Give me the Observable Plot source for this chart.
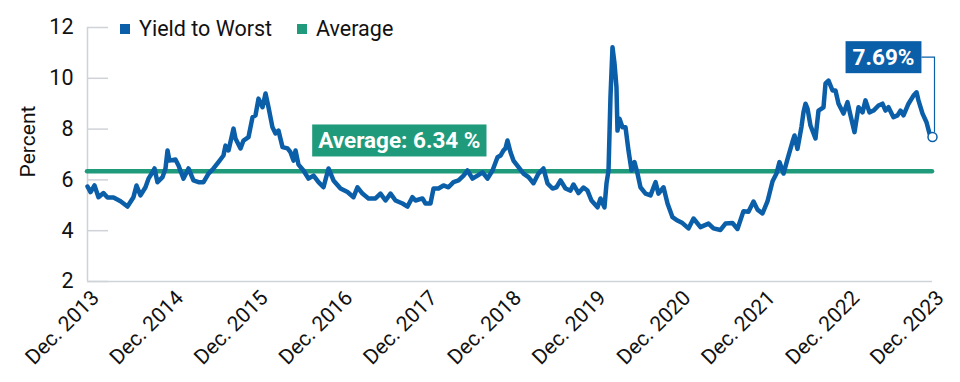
<!DOCTYPE html>
<html><head><meta charset="utf-8">
<script src="https://cdn.jsdelivr.net/npm/d3@7"></script>
<script src="https://cdn.jsdelivr.net/npm/@observablehq/plot@0.6"></script>
<style>
body{margin:0;background:#fff;font-family:Roboto,sans-serif}
#wrap{position:relative;width:960px;height:382px}
#legend{position:absolute;left:120px;top:17px;display:flex;gap:25px;font-size:21.5px;color:#111;line-height:24px}
#legend span.item{display:flex;align-items:center}
#legend span.sw{display:inline-block;width:10px;height:10px;margin-right:9px}
</style></head><body>
<div id="wrap"><div id="legend"></div></div>
<script>
// ---- data ----
const seriesNames = ["Yield to Worst", "Average"];
const seriesColors = ["#0b5ea8", "#1f9a7a"];
// decimal years (2014.0 = end of Dec. 2013)
const dates = [2014.000,2014.036,2014.083,2014.130,2014.189,2014.237,2014.308,2014.391,2014.473,2014.544,2014.580,2014.627,2014.686,2014.722,2014.769,2014.793,2014.828,2014.888,2014.923,2014.947,2014.970,
2015.041,2015.077,2015.136,2015.195,2015.254,2015.314,2015.373,2015.432,2015.491,2015.550,2015.609,2015.633,2015.669,2015.728,2015.751,2015.811,2015.846,2015.905,2015.953,2015.988,
2016.024,2016.071,2016.107,2016.142,2016.189,2016.225,2016.260,2016.308,2016.367,2016.402,2016.438,2016.462,2016.497,2016.556,2016.615,2016.675,2016.734,2016.793,2016.852,2016.911,2016.994,
2017.077,2017.148,2017.195,2017.254,2017.325,2017.408,2017.467,2017.527,2017.586,2017.645,2017.728,2017.787,2017.846,2017.882,2017.964,
2018.000,2018.059,2018.095,2018.154,2018.213,2018.272,2018.331,2018.391,2018.450,2018.497,2018.556,2018.615,2018.675,2018.734,2018.793,2018.852,2018.888,2018.923,2018.947,2018.970,
2019.006,2019.041,2019.101,2019.160,2019.219,2019.278,2019.337,2019.396,2019.444,2019.503,2019.550,2019.598,2019.657,2019.716,2019.751,2019.811,2019.870,2019.917,2019.964,
2020.036,2020.071,2020.118,2020.142,2020.166,2020.189,2020.213,2020.237,2020.260,2020.272,2020.296,2020.331,2020.367,2020.402,2020.438,2020.473,2020.509,2020.544,2020.604,2020.663,2020.722,2020.757,2020.817,2020.864,2020.923,2020.982,
2021.041,2021.112,2021.172,2021.254,2021.349,2021.408,2021.491,2021.550,2021.633,2021.692,2021.763,2021.822,2021.882,2021.929,2021.988,
2022.047,2022.107,2022.154,2022.189,2022.237,2022.284,2022.343,2022.367,2022.402,2022.450,2022.473,2022.497,2022.521,2022.556,2022.615,2022.651,2022.710,2022.734,2022.769,2022.817,2022.852,2022.888,2022.947,2022.994,
2023.030,2023.077,2023.124,2023.172,2023.207,2023.254,2023.302,2023.361,2023.408,2023.444,2023.479,2023.538,2023.586,2023.621,2023.657,2023.716,2023.775,2023.811,2023.834,2023.882,2023.929,2023.964,2024.000];
const yieldToWorst = [5.74,5.52,5.78,5.32,5.48,5.31,5.31,5.16,4.95,5.32,5.78,5.39,5.71,6.05,6.30,6.45,5.91,6.11,6.45,7.16,6.76,
6.80,6.57,6.05,6.45,5.98,5.91,5.91,6.25,6.45,6.70,6.96,7.35,7.16,8.02,7.63,7.24,7.55,7.68,8.47,8.54,
9.20,8.86,9.40,8.86,8.07,7.83,7.94,7.29,7.24,7.09,6.76,7.16,6.60,6.37,6.05,6.17,5.91,5.71,6.45,5.98,5.66,
5.52,5.32,5.71,5.46,5.27,5.27,5.46,5.19,5.46,5.19,5.07,4.95,5.32,5.19,5.27,
5.07,5.07,5.66,5.66,5.78,5.71,5.91,5.98,6.17,6.37,6.05,6.17,6.30,6.05,6.37,6.89,6.96,7.16,7.24,7.55,
7.09,6.76,6.50,6.25,6.11,5.87,6.25,6.45,5.86,5.66,5.71,5.98,5.66,5.58,5.82,5.48,5.70,5.58,5.19,
4.92,5.27,4.92,5.86,6.37,9.26,11.22,10.58,9.65,7.94,8.41,8.07,8.07,7.16,6.37,6.70,6.25,5.71,5.46,5.39,5.91,5.46,5.71,5.07,4.53,4.40,
4.30,4.09,4.48,4.14,4.28,4.09,4.03,4.28,4.30,4.07,4.77,4.75,5.15,4.83,4.68,
5.15,5.95,6.25,6.70,6.25,6.82,7.50,7.75,7.22,8.10,8.66,9.00,8.81,8.14,7.63,8.73,8.86,9.80,9.91,9.52,9.52,9.00,8.61,9.06,
8.54,7.88,8.86,8.66,9.13,8.66,8.73,8.93,9.00,8.73,8.86,8.47,8.54,8.73,8.54,9.00,9.32,9.45,9.13,8.61,8.27,7.83,7.69];
const average = 6.34;
const averageLabelAt = 2016.73;   // decimal year where the average label starts
const yTicks = [2, 4, 6, 8, 10, 12];
const tickYears = [2013,2014,2015,2016,2017,2018,2019,2020,2021,2022,2023];

// ---- helpers ----
const DAY = 864e5;
const toDate = t => new Date(Date.UTC(2013, 11, 31) + (t - 2014) * 365.25 * DAY);
const data = dates.map((t, i) => ({date: toDate(t), value: yieldToWorst[i]}));
const last = data[data.length - 1];
const tickDates = tickYears.map(y => new Date(Date.UTC(y, 11, 31)));
const [blue, green] = seriesColors;
const grey = "#cfd3d8";
const avgText = `Average: ${average} %`;
const endText = `${last.value}%`;

// legend
const legend = document.getElementById("legend");
seriesNames.forEach((n, i) => {
  const s = document.createElement("span"); s.className = "item";
  s.innerHTML = `<span class="sw" style="background:${seriesColors[i]}"></span>${n}`;
  legend.appendChild(s);
});

const plot = Plot.plot({
  width: 960, height: 382,
  marginLeft: 87, marginRight: 28, marginTop: 27, marginBottom: 101,
  style: {fontFamily: "Roboto, sans-serif", fontSize: "20px", color: "#111", background: "transparent", overflow: "visible"},
  x: {type: "utc", domain: [tickDates[0], last.date]},
  y: {domain: [2, 12]},
  marks: [
    Plot.tickY(yTicks, {y: d => d, stroke: grey, strokeWidth: 1.5, insetRight: 824}),
    Plot.ruleY([yTicks[0]], {stroke: grey, strokeWidth: 1.5}),
    Plot.ruleX([tickDates[0]], {stroke: grey, strokeWidth: 1.5}),
    Plot.axisY(yTicks, {tickSize: 0, tickPadding: 14, label: null, fontSize: 21.5}),
    Plot.text(["Percent"], {frameAnchor: "left", textAnchor: "middle", lineAnchor: "middle", rotate: -90, dx: -59, dy: -13, fontSize: 21}),
    Plot.axisX(tickDates, {tickSize: 0, tickRotate: -45, tickPadding: 6, label: null, fontSize: 21, dx: 8, dy: 7,
      tickFormat: d => `Dec. ${d.getUTCFullYear()}`}),
    Plot.ruleY([average], {stroke: green, strokeWidth: 4.5, strokeLinecap: "round"}),
    Plot.line(data, {x: "date", y: "value", stroke: blue, strokeWidth: 4.5, strokeLinejoin: "round", strokeLinecap: "round"}),
    Plot.text([average], {x: () => toDate(averageLabelAt), y: d => d, text: () => avgText,
      dy: -30, textAnchor: "start", fill: "white", fontWeight: "bold", fontSize: 22.5}),
    Plot.text([last], {x: "date", y: "value", text: () => endText, dx: -49, dy: -79,
      fill: "white", fontWeight: "bold", fontSize: 22.5}),
    Plot.dot([last], {x: "date", y: "value", r: 4.5, fill: "white", stroke: blue, strokeWidth: 1.5})
  ]
});
document.getElementById("wrap").appendChild(plot);
plot.style.position = "absolute"; plot.style.left = "0"; plot.style.top = "0";

const NS = "http://www.w3.org/2000/svg";
function backdrop(str, fill, padX, padY) {
  const t = [...plot.querySelectorAll("text")].find(e => e.textContent === str);
  const g = t.parentNode;
  const sr = plot.getBoundingClientRect(), r = t.getBoundingClientRect();
  const b = {x: r.left - sr.left - padX, y: r.top - sr.top - padY, w: r.width + 2 * padX, h: r.height + 2 * padY};
  const rect = document.createElementNS(NS, "rect");
  rect.setAttribute("x", b.x); rect.setAttribute("y", b.y);
  rect.setAttribute("width", b.w); rect.setAttribute("height", b.h);
  rect.setAttribute("fill", fill);
  g.parentNode.insertBefore(rect, g);
  return b;
}
backdrop(avgText, green, 6, 3);
const eb = backdrop(endText, blue, 7, 3);
const cx = plot.scale("x").apply(last.date), cy = plot.scale("y").apply(last.value);
const path = document.createElementNS(NS, "path");
const vx = cx + 2.5, my = eb.y + eb.h / 2;
path.setAttribute("d", `M${eb.x + eb.w},${my}H${vx}V${cy - 4}`);
path.setAttribute("fill", "none"); path.setAttribute("stroke", blue); path.setAttribute("stroke-width", 1.2);
const circ = plot.querySelector("circle");
const dotG = circ.parentNode;
dotG.parentNode.insertBefore(path, dotG);
</script>
</body></html>
